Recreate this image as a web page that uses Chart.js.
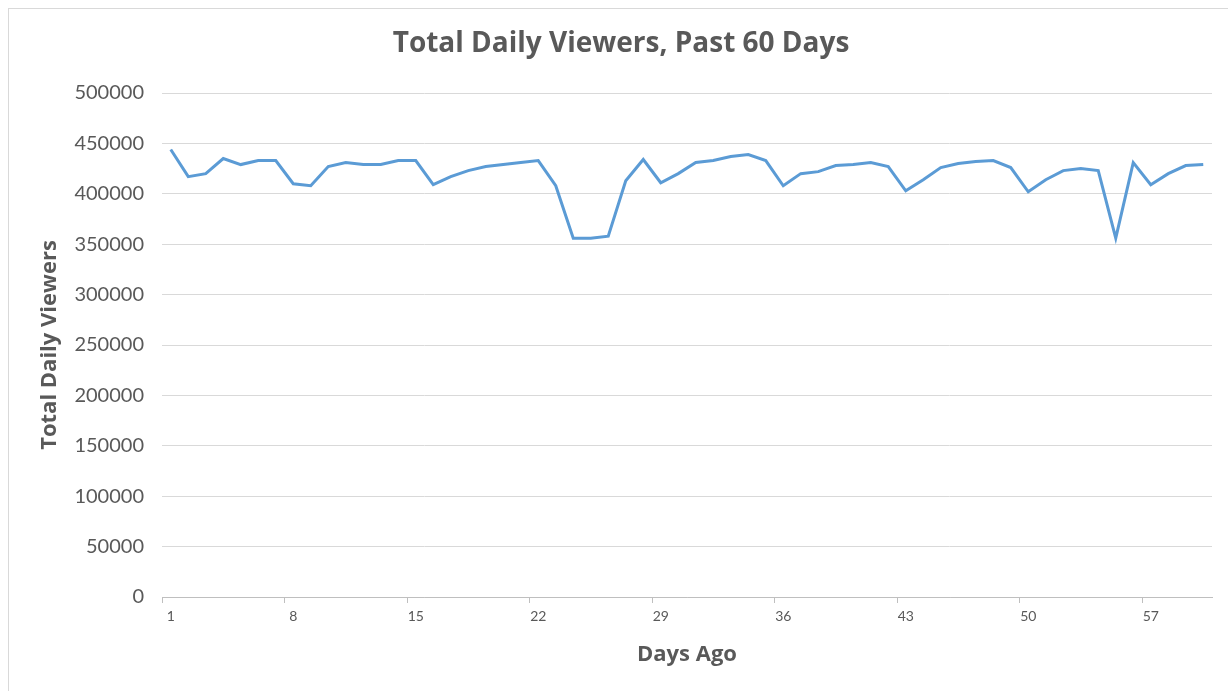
<!DOCTYPE html>
<html>
<head>
<meta charset="utf-8">
<script src="https://cdn.jsdelivr.net/npm/chart.js@4"></script>
<style>
  html, body { margin: 0; padding: 0; background: #fff; overflow: hidden; }
  #wrap { position: relative; width: 1228px; height: 691px; }
  #frame { position: absolute; left: 8px; top: 8px; width: 1240px; height: 700px; border: 1px solid #d9d9d9; }
  #myChart { position: absolute; left: 0; top: 0; }
</style>
</head>
<body>
<div id="wrap">
  <div id="frame"></div>
  <canvas id="myChart" width="1228" height="691"></canvas>
</div>
<script>
const days = [
  1, 2, 3, 4, 5, 6, 7, 8, 9, 10, 11, 12, 13, 14, 15, 16, 17, 18, 19, 20,
  21, 22, 23, 24, 25, 26, 27, 28, 29, 30, 31, 32, 33, 34, 35, 36, 37, 38, 39, 40,
  41, 42, 43, 44, 45, 46, 47, 48, 49, 50, 51, 52, 53, 54, 55, 56, 57, 58, 59, 60,
];
const viewers = [
  444000, 417000, 420000, 435000, 429000, 433000, 433000, 410000, 408000, 427000,
  431000, 429000, 429000, 433000, 433000, 409000, 417000, 423000, 427000, 429000,
  431000, 433000, 408000, 356000, 356000, 358000, 413000, 434000, 411000, 420000,
  431000, 433000, 437000, 439000, 433000, 408000, 420000, 422000, 428000, 429000,
  431000, 427000, 403000, 414000, 426000, 430000, 432000, 433000, 426000, 402000,
  414000, 423000, 425000, 423000, 356000, 431000, 409000, 420000, 428000, 429000,
];
const dayTicks = [1, 8, 15, 22, 29, 36, 43, 50, 57];

const textGrey = '#595959';
const fontFamily = 'Lato, "Open Sans", sans-serif';
const headFamily = '"Open Sans", Lato, sans-serif';

const ctx = document.getElementById('myChart').getContext('2d');
const myChart = new Chart(ctx, {
  type: 'line',
  data: {
    labels: days,
    datasets: [
      {
        label: 'Total Daily Viewers',
        data: viewers,
        borderColor: '#5b9bd5',
        borderWidth: 3,
        pointRadius: 0,
        tension: 0,
      },
    ],
  },
  options: {
    responsive: false,
    animation: false,
    layout: {
      padding: { left: 30, right: 16, top: 0, bottom: 0 },
    },
    plugins: {
      legend: { display: false },
      tooltip: { enabled: false },
      title: {
        display: true,
        text: 'Total Daily Viewers, Past 60 Days',
        color: textGrey,
        font: { family: headFamily, size: 28, weight: 'bold' },
        padding: { top: 27, bottom: 32.4 },
      },
    },
    scales: {
      x: {
        offset: true,
        afterFit: (scale) => { scale.height = 94; },
        border: { display: true, color: '#bfbfbf', width: 1 },
        grid: {
          offset: true,
          drawOnChartArea: false,
          drawTicks: true,
          tickLength: 6,
          color: (c) => (c.index % 7 === 0 ? '#bfbfbf' : 'rgba(0,0,0,0)'),
        },
        ticks: {
          autoSkip: false,
          maxRotation: 0,
          padding: 5,
          color: textGrey,
          font: { family: fontFamily, size: 14 },
          callback: function (value, index) {
            const d = days[index];
            return dayTicks.includes(d) ? String(d) : '';
          },
        },
        title: {
          display: true,
          text: 'Days Ago',
          color: textGrey,
          font: { family: headFamily, size: 22, weight: 'bold' },
          padding: { top: 4, bottom: 23 },
        },
      },
      y: {
        min: 0,
        max: 500000,
        afterFit: (scale) => { scale.width = 132; },
        border: { display: false },
        grid: {
          color: '#d9d9d9',
          lineWidth: 1,
          drawTicks: false,
        },
        ticks: {
          stepSize: 50000,
          padding: 18,
          color: textGrey,
          font: { family: fontFamily, size: 20 },
          callback: (value) => String(value),
        },
        title: {
          display: true,
          text: 'Total Daily Viewers',
          color: textGrey,
          font: { family: headFamily, size: 22, weight: 'bold' },
          padding: { top: 7, bottom: 4 },
        },
      },
    },
  },
});
</script>
</body>
</html>
